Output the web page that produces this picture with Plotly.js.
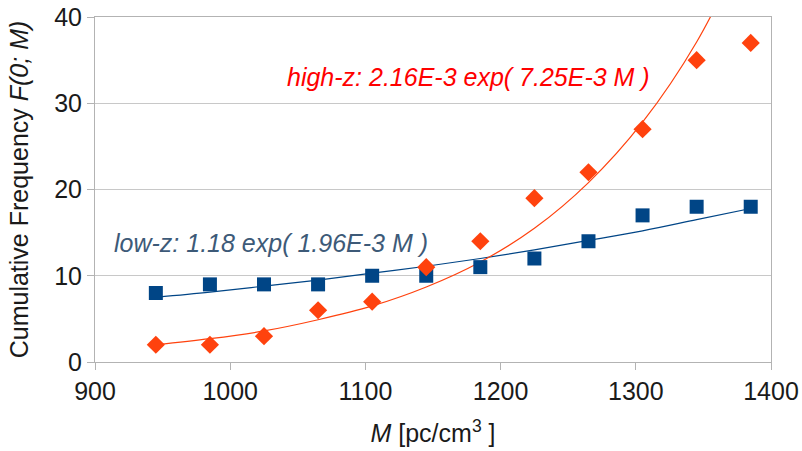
<!DOCTYPE html>
<html>
<head>
<meta charset="utf-8">
<script src="https://cdn.plot.ly/plotly-3.0.1.min.js"></script>
<style>html,body{margin:0;padding:0;background:#fff;}#chart{width:802px;height:451px;}</style>
</head>
<body>
<div id="chart"></div>
<script>
// Data
const M = [945, 985, 1025, 1065, 1105, 1145, 1185, 1225, 1265, 1305, 1345, 1385];
const lowZ = [8, 9, 9, 9, 10, 10, 11, 12, 14, 17, 18, 18];
const highZ = [2, 2, 3, 6, 7, 11, 14, 19, 22, 27, 35, 37];
// Trend curves at the same M values
const lowZFit = [7.5, 8.1, 8.8, 9.5, 10.3, 11.1, 12.0, 13.0, 14.1, 15.2, 16.5, 17.8];
const highZFit = [2.0, 2.7, 3.6, 4.9, 6.5, 8.7, 11.6, 15.5, 20.8, 27.8, 37.1, 49.6];
const lowLabel = "low-z: 1.18 exp( 1.96E-3 M )";
const highLabel = "high-z: 2.16E-3 exp( 7.25E-3 M )";

const font = "Liberation Sans, Arial, sans-serif";
const traces = [
  {x: M, y: lowZFit, mode: "lines", line: {color: "#004586", width: 1.2, shape: "spline"}, hoverinfo: "skip"},
  {x: M, y: highZFit, mode: "lines", line: {color: "#ff420e", width: 1.2, shape: "spline"}, hoverinfo: "skip"},
  {x: M, y: lowZ, mode: "markers", marker: {symbol: "square", size: 14, color: "#004586"}},
  {x: M, y: highZ, mode: "markers", marker: {symbol: "diamond", size: 14, color: "#ff420e"}}
];
const layout = {
  width: 802, height: 451,
  margin: {l: 95, r: 31, t: 17, b: 89},
  showlegend: false,
  paper_bgcolor: "#fff", plot_bgcolor: "#fff",
  font: {family: font, color: "#1a1a1a", size: 25},
  xaxis: {
    range: [900, 1400], dtick: 100, tick0: 900,
    showgrid: false, zeroline: false,
    showline: true, mirror: true, linecolor: "#b3b3b3", linewidth: 1,
    ticks: "outside", ticklen: 7, tickcolor: "#b3b3b3",
    tickfont: {size: 25, color: "#1a1a1a"},
    title: {text: "<i>M</i> [pc/cm<sup>3</sup> ]", font: {size: 25, color: "#1a1a1a"}, standoff: 20}
  },
  yaxis: {
    range: [0, 40], dtick: 10,
    showgrid: true, gridcolor: "#c8c8c8", gridwidth: 1, zeroline: false,
    showline: true, mirror: true, linecolor: "#b3b3b3", linewidth: 1,
    ticks: "outside", ticklen: 7, tickcolor: "#b3b3b3",
    tickfont: {size: 25, color: "#1a1a1a"},
    title: {text: "Cumulative Frequency <i>F(0; M)</i>", font: {size: 25, color: "#1a1a1a"}, standoff: 18}
  },
  annotations: [
    {x: 1030, y: 13.8, xref: "x", yref: "y", text: "<i>" + lowLabel + "</i>", showarrow: false,
     font: {size: 25, color: "#3d5a78", family: font}},
    {x: 1176, y: 33.0, xref: "x", yref: "y", text: "<i>" + highLabel + "</i>", showarrow: false,
     font: {size: 25, color: "#ff0000", family: font}}
  ]
};
Plotly.newPlot("chart", traces, layout, {displayModeBar: false, staticPlot: true});
</script>
</body>
</html>
